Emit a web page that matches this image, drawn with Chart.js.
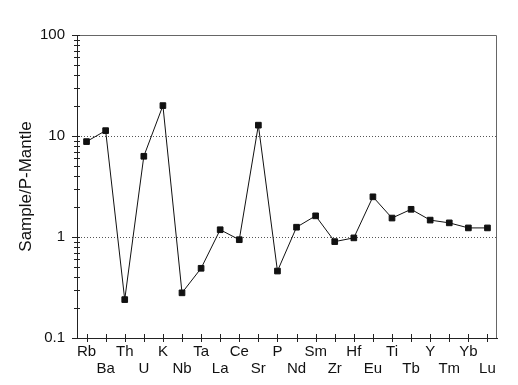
<!DOCTYPE html>
<html>
<head>
<meta charset="utf-8">
<script src="https://cdn.jsdelivr.net/npm/chart.js@4/dist/chart.umd.min.js"></script>
<style>
  body { margin: 0; background: #fff; }
  canvas { display: block; }
</style>
</head>
<body>
<canvas id="spider" width="518" height="385"></canvas>
<script>
const elements = ["Rb", "Ba", "Th", "U", "K", "Nb", "Ta", "La", "Ce", "Sr", "P",
  "Nd", "Sm", "Zr", "Hf", "Eu", "Ti", "Tb", "Y", "Tm", "Yb", "Lu"];
const ratios = [8.8, 11.3, 0.24, 6.3, 20, 0.28, 0.49, 1.18, 0.94, 12.8, 0.46,
  1.25, 1.62, 0.9, 0.98, 2.5, 1.54, 1.88, 1.47, 1.38, 1.23, 1.23];
const majorTicks = [0.1, 1, 10, 100];
const gridAt = [1, 10];

// box frame on top/right plus tick marks that cross the axes
const frame = {
  id: "frame",
  afterDraw(chart) {
    const a = chart.chartArea;
    const ctx = chart.ctx;
    const xs = chart.scales.x;
    const ys = chart.scales.y;
    ctx.save();
    ctx.strokeStyle = "#666";
    ctx.lineWidth = 1;
    ctx.beginPath();
    ctx.moveTo(a.left, a.top + 0.5);
    ctx.lineTo(a.right - 0.5, a.top + 0.5);
    ctx.lineTo(a.right - 0.5, a.bottom);
    ctx.stroke();

    ctx.strokeStyle = "#222";
    ctx.beginPath();
    ys.ticks.forEach(t => {
      const y = Math.round(ys.getPixelForValue(t.value)) + 0.5;
      const big = majorTicks.includes(t.value);
      ctx.moveTo(a.left - (big ? 5 : 3), y);
      ctx.lineTo(a.left + 3, y);
    });
    xs.ticks.forEach((t, i) => {
      const x = Math.round(xs.getPixelForTick(i)) + 0.5;
      ctx.moveTo(x, a.bottom - 4);
      ctx.lineTo(x, a.bottom + 4);
    });
    ctx.stroke();
    ctx.restore();
  }
};

new Chart("spider", {
  type: "line",
  data: {
    labels: elements,
    datasets: [{
      data: ratios,
      borderColor: "#111",
      borderWidth: 1,
      backgroundColor: "#111",
      pointStyle: "rect",
      pointRadius: 4,
      tension: 0
    }]
  },
  options: {
    responsive: false,
    animation: false,
    layout: { padding: { top: 35, right: 21, left: 0, bottom: 0 } },
    plugins: { legend: { display: false }, tooltip: { enabled: false } },
    scales: {
      x: {
        type: "category",
        offset: true,
        afterFit(s) { s.height = 47; },
        grid: { offset: false, drawOnChartArea: false, drawTicks: false },
        border: { color: "#222", width: 1 },
        ticks: {
          autoSkip: false,
          maxRotation: 0,
          padding: 5,
          color: "#111",
          font: { family: "Arial, 'Liberation Sans'", size: 15, lineHeight: 1.17 },
          callback(v, i) {
            const lab = elements[i];
            return i % 2 === 0 ? lab : ["", lab];
          }
        }
      },
      y: {
        type: "logarithmic",
        min: 0.1,
        max: 100,
        afterFit(s) { s.width = 77; },
        afterBuildTicks(s) {
          const t = [];
          for (let e = -1; e <= 1; e++) {
            for (let m = 1; m <= 9; m++) {
              t.push({ value: +(m * Math.pow(10, e)).toPrecision(3) });
            }
          }
          t.push({ value: 100 });
          s.ticks = t;
        },
        grid: {
          color(c) {
            return c.tick && gridAt.includes(c.tick.value) ? "#555" : "rgba(0,0,0,0)";
          },
          drawTicks: false
        },
        border: { color: "#222", width: 1, dash: [1, 2] },
        ticks: {
          autoSkip: false,
          padding: 12,
          color: "#111",
          font: { family: "Arial, 'Liberation Sans'", size: 15 },
          callback(v) {
            return majorTicks.includes(v) ? String(v) : "";
          }
        },
        title: {
          display: true,
          text: "Sample/P-Mantle",
          color: "#111",
          font: { family: "Arial, 'Liberation Sans'", size: 17 },
          padding: { top: 16, bottom: 0 }
        }
      }
    }
  },
  plugins: [frame]
});
</script>
</body>
</html>
